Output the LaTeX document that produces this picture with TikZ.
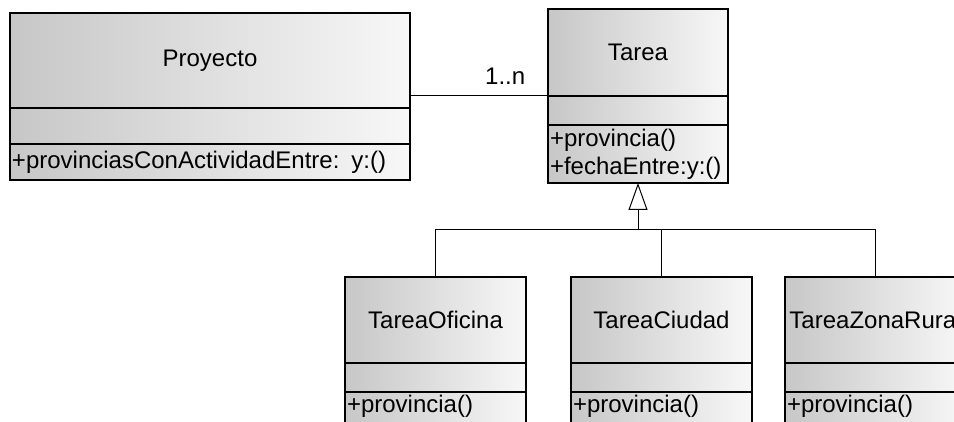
\documentclass[tikz,border=0pt]{standalone}
\usepackage{fontspec}
\setmainfont{Liberation Sans}
\usetikzlibrary{positioning,arrows.meta}

\begin{document}
\begin{tikzpicture}[x=1pt, y=-1pt, node distance=0pt, line width=1.5pt,
                    class node/.style={rectangle,draw,outer sep=0pt,inner sep=2pt,
                      left color=black!22,right color=black!3,font=\fontsize{24}{28}\selectfont},
                    sub node/.style={class node,minimum width=181pt},
                    sub ops/.style={class node,text width=177pt,align=left,text height=18pt,text depth=24pt},
                    conn/.style={line width=1pt}]

\useasboundingbox (0,0) rectangle (954,422);
\clip (0,0) rectangle (954,422);

  \node[class node,minimum width=400pt,minimum height=95pt,anchor=north west] (proy) at (10,13) {Proyecto};
  \node[class node,minimum width=400pt,minimum height=36pt] (proyA) [below=of proy] {};
  \node[class node,text width=396pt,minimum height=36pt,align=left] (proyO) [below=of proyA] {+provinciasConActividadEntre: y:()};

  \node[class node,minimum width=180pt,minimum height=87pt,anchor=north west] (tarea) at (548,9) {Tarea};
  \node[class node,minimum width=180pt,minimum height=29pt] (tareaA) [below=of tarea] {};
  \node[class node,text width=176pt,minimum height=58pt,align=left] (tareaO) [below=of tareaA] {+provincia()\\+fechaEntre:y:()};

  \node[sub node,minimum height=86pt,anchor=north west] (ofi) at (345,277) {TareaOficina};
  \node[sub node,minimum height=86pt] (ciu) [right=45pt of ofi] {TareaCiudad};
  \node[sub node,minimum height=86pt] (rur) [right=33pt of ciu] {TareaZonaRural};

  \node[sub node,minimum height=29pt] (ofiA) [below=of ofi] {};
  \node[sub node,minimum height=29pt] (ciuA) [below=of ciu] {};
  \node[sub node,minimum height=29pt] (rurA) [below=of rur] {};

  \node[sub ops] (ofiO) [below=of ofiA] {+provincia()};
  \node[sub ops] (ciuO) [below=of ciuA] {+provincia()};
  \node[sub ops] (rurO) [below=of rurA] {+provincia()};

\coordinate (bus) at (tareaO.south |- 0,230);

\draw[conn] (tarea.south west) -- (tarea.south west -| proy.east)
    node[pos=0.31,above=8pt] {\fontsize{24}{28}\selectfont 1..n};
\draw[conn,-{Triangle[open,length=27pt,width=19pt]}] (bus) -- (tareaO.south);
\draw[conn] (ofi.north) |- (bus -| rur.north) -- (rur.north);
\draw[conn] (ciu.north) -- (ciu.north |- bus);

\end{tikzpicture}
\end{document}
